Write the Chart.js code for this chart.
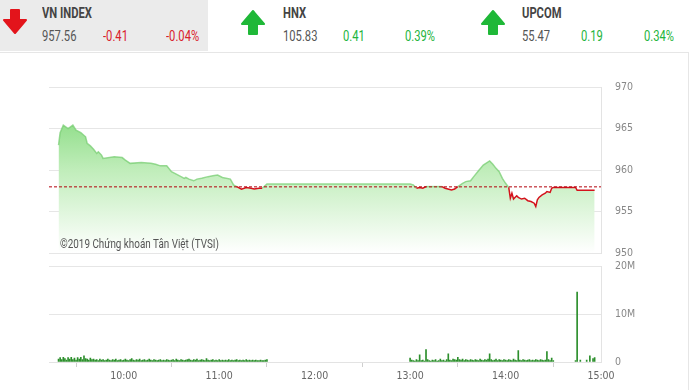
<!DOCTYPE html>
<html>
<head>
<meta charset="utf-8">
<script src="https://cdn.jsdelivr.net/npm/chart.js@4.4.0/dist/chart.umd.min.js"></script>
<style>
  body { margin: 0; width: 690px; height: 390px; background: #fff; overflow: hidden;
         font-family: Roboto, 'DejaVu Sans Condensed', sans-serif; }
  .hdr { position: absolute; top: 0; height: 51px; }
  .grey { left: 0; width: 208px; background: #ebebeb; }
  .txt { position: absolute; font-size: 14px; color: #555; white-space: nowrap;
         transform: scaleX(0.8); transform-origin: 0 0; }
  .name { font-weight: bold; color: #444; top: 5px; }
  .val { top: 28px; }
  .red { color: #d9202a; }
  .green { color: #22b43c; }
  .arrow { position: absolute; }
  #frame { position: absolute; left: 0; top: 52px; width: 688px; height: 340px;
           border-top: 1px solid #e6e6e6; border-right: 1px solid #e6e6e6; }
  #mainWrap { position: absolute; left: 0; top: 60px; width: 690px; height: 200px; }
  #volWrap { position: absolute; left: 0; top: 260px; width: 690px; height: 130px; }
  canvas { display: block; }
  #copy { position: absolute; left: 60px; top: 236px; font-size: 13px; color: #555; white-space: nowrap;
          transform: scaleX(0.76); transform-origin: 0 0; }
</style>
</head>
<body>
<div class="hdr grey"></div>
<div id="frame"></div>

<svg class="arrow" style="left:2px;top:9px" width="26" height="26" viewBox="0 0 26 26">
  <polygon points="9,1 17,1 17,11 24,11 13,24 2,11 9,11" fill="#e3141b" stroke="#e3141b" stroke-width="2" stroke-linejoin="round"/>
</svg>
<svg class="arrow" style="left:240px;top:9px" width="26" height="26" viewBox="0 0 26 26">
  <polygon points="13,2 24,15 17,15 17,25 9,25 9,15 2,15" fill="#1fb838" stroke="#1fb838" stroke-width="2" stroke-linejoin="round"/>
</svg>
<svg class="arrow" style="left:480px;top:9px" width="26" height="26" viewBox="0 0 26 26">
  <polygon points="13,2 24,15 17,15 17,25 9,25 9,15 2,15" fill="#1fb838" stroke="#1fb838" stroke-width="2" stroke-linejoin="round"/>
</svg>

<div class="txt name" style="left:42px">VN INDEX</div>
<div class="txt val" style="left:42px">957.56</div>
<div class="txt val red" style="left:103px">-0.41</div>
<div class="txt val red" style="left:166px">-0.04%</div>

<div class="txt name" style="left:283px">HNX</div>
<div class="txt val" style="left:283px">105.83</div>
<div class="txt val green" style="left:343px">0.41</div>
<div class="txt val green" style="left:405px">0.39%</div>

<div class="txt name" style="left:522px">UPCOM</div>
<div class="txt val" style="left:522px">55.47</div>
<div class="txt val green" style="left:581px">0.19</div>
<div class="txt val green" style="left:644px">0.34%</div>

<div id="mainWrap"><canvas id="priceChart" width="690" height="200"></canvas></div>
<div id="volWrap"><canvas id="volChart" width="690" height="130"></canvas></div>
<div id="copy">©2019 Chứng khoán Tân Việt (TVSI)</div>

<script>
// Reference (previous close) level
const REF = 957.97;

// Axis range, minutes since midnight (9:13 -> 15:00)
const X_MIN = 553;
const X_MAX = 900;

// Price line: time and index value
const priceTimes = [
  '09:19', '09:20', '09:22', '09:25', '09:28', '09:30', '09:33', '09:36', '09:37', '09:39',
  '09:41', '09:43', '09:44', '09:46', '09:47', '09:54', '09:59', '10:01', '10:04', '10:11',
  '10:17', '10:20', '10:23', '10:27', '10:30', '10:33', '10:36', '10:38', '10:39', '10:41',
  '10:44', '10:46', '10:49', '10:53', '10:56', '10:59', '11:02', '11:07', '11:09', '11:11',
  '11:14', '11:17', '11:20', '11:22', '11:25', '11:27', '11:30', '13:00', '13:02', '13:04',
  '13:06', '13:08', '13:10', '13:20', '13:22', '13:26', '13:28', '13:30', '13:33', '13:35',
  '13:38', '13:40', '13:43', '13:46', '13:50', '13:52', '13:54', '13:56', '13:58', '14:00',
  '14:02', '14:03', '14:04', '14:05', '14:07', '14:08', '14:10', '14:12', '14:14', '14:16',
  '14:18', '14:19', '14:20', '14:21', '14:23', '14:25', '14:26', '14:28', '14:29', '14:30',
  '14:44', '14:45', '14:56'
];
const priceValues = [
  963.0, 964.5, 965.4, 965.0, 965.4, 964.8, 964.5, 964.0, 963.2, 962.9,
  962.5, 962.0, 962.2, 961.8, 961.4, 961.6, 961.5, 961.2, 960.8, 960.9,
  960.8, 960.7, 960.5, 960.5, 959.8, 959.5, 959.2, 959.0, 959.1, 958.9,
  958.7, 958.9, 959.0, 959.2, 959.3, 959.4, 959.1, 958.9, 958.2, 958.0,
  957.7, 957.9, 957.8, 957.7, 957.8, 957.8, 958.3, 958.3, 958.2, 957.8,
  957.9, 957.8, 958.0, 958.0, 957.8, 957.6, 957.7, 958.0, 958.4, 958.6,
  958.7, 959.2, 959.9, 960.6, 961.1, 960.7, 960.2, 959.8, 959.0, 958.4,
  957.9, 956.6, 957.2, 956.5, 956.9, 956.7, 956.5, 956.6, 956.3, 956.2,
  956.0, 955.6, 956.4, 956.7, 957.0, 957.2, 957.4, 957.3, 957.8, 957.9,
  957.9, 957.56, 957.56
];

// Volume (millions of shares), one bar per minute from the session start
const morningStart = '09:19';
const morningVol = [
  0.6, 0.9, 0.5, 1.0, 0.7, 0.4, 0.9, 0.6, 1.0, 0.5, 0.8, 0.4, 0.9, 0.6, 1.0, 0.5, 1.3, 0.7, 0.6, 0.4, 0.8, 0.5,
  0.6, 0.4, 0.5, 0.3, 0.6, 0.4, 0.5, 0.3, 0.4, 0.6, 0.4, 0.3, 0.5, 0.4, 0.6, 0.3, 0.4, 0.5, 0.3, 0.4,
  0.6, 0.4, 0.3, 0.5, 0.7, 0.4, 0.3, 0.5, 0.4, 0.6, 0.3, 0.4, 0.5, 0.3, 0.4, 0.6, 0.4, 0.3, 0.5, 0.4,
  0.3, 0.4, 0.5, 0.3, 0.4, 0.3, 0.5, 0.4, 0.3, 0.4, 0.5, 0.3, 0.6, 0.4, 0.3, 0.5, 0.4, 0.3, 0.4, 0.5,
  0.6, 0.4, 0.3, 0.5, 0.4, 0.6, 0.3, 0.4, 0.5, 0.4, 0.3, 0.7, 0.4, 0.3, 0.4, 0.5, 0.3, 0.4, 0.3, 0.5,
  0.3, 0.4, 0.3, 0.4, 0.3, 0.5, 0.3, 0.4, 0.3, 0.4, 0.5, 0.3, 0.4, 0.3, 0.4, 0.3, 0.5, 0.3, 0.4, 0.3,
  0.4, 0.3, 0.4, 0.3, 0.3, 0.4, 0.3, 0.3, 0.4, 0.5
];
const afternoonStart = '13:00';
const afternoonVol = [
  0.8, 0.4, 0.3, 0.2, 0.5, 0.3, 1.5, 0.3, 0.4, 0.2,
  2.6, 0.5, 0.3, 0.2, 0.4, 0.3, 0.5, 0.2, 0.3, 0.6,
  0.3, 0.4, 0.2, 0.5, 1.7, 0.4, 0.3, 0.6, 0.5, 0.4,
  1.0, 0.5, 0.4, 0.6, 0.3, 0.5, 0.4, 0.3, 0.5, 0.4,
  0.3, 0.5, 0.4, 0.3, 0.6, 0.4, 0.3, 0.5, 0.4, 0.6,
  1.7, 0.5, 0.3, 0.4, 0.6, 0.3, 0.5, 0.4, 0.3, 0.5,
  0.4, 0.3, 0.5, 0.4, 0.3, 0.6, 0.4, 0.3, 2.4, 0.4,
  0.3, 0.5, 0.4, 0.3, 0.4, 0.5, 0.3, 0.4, 0.3, 0.5,
  0.4, 0.3, 0.5, 0.4, 0.3, 0.4, 2.2, 0.5, 0.3, 0.8,
  0.3
];
// Closing auction and after
const closeTimes = ['14:44', '14:45', '14:47', '14:51', '14:53', '14:55', '14:56'];
const closeVol = [0.3, 14.6, 0.4, 0.4, 1.3, 0.7, 0.9];

// Axis ticks
const priceTicks = [950, 955, 960, 965, 970];
const volTicks = [0, 10, 20];
const timeTicks = ['10:00', '11:00', '12:00', '13:00', '14:00', '15:00'];

const FONT = "'DejaVu Sans Condensed', Roboto, sans-serif";
const RED = '#d4121c';
const GREEN_EDGE = 'rgba(120, 205, 115, 0.75)';

const toMin = (t) => {
  const [h, m] = t.split(':').map(Number);
  return h * 60 + m;
};
const fmtTime = (v) => {
  const h = Math.floor(v / 60);
  const m = v % 60;
  return `${h}:${String(m).padStart(2, '0')}`;
};

const pricePoints = priceTimes.map((t, i) => ({ x: toMin(t), y: priceValues[i] }));
const volPoints = [
  ...morningVol.map((v, i) => ({ x: toMin(morningStart) + i, y: v })),
  ...afternoonVol.map((v, i) => ({ x: toMin(afternoonStart) + i, y: v })),
  ...closeVol.map((v, i) => ({ x: toMin(closeTimes[i]), y: v }))
];

// Fix the right axis width so both plots line up
const fixWidth = (scale) => { scale.width = 89; };

// Right axis: labels pushed 14px off the border by an invisible tick mark
const rightGrid = { color: '#e6e6e6', drawTicks: true, tickLength: 14, tickColor: 'rgba(0,0,0,0)' };

const areaFill = (ctx) => {
  const { chart } = ctx;
  const area = chart.chartArea;
  if (!area) return 'rgba(150,225,145,0.6)';
  const g = chart.ctx.createLinearGradient(0, area.top, 0, area.bottom);
  g.addColorStop(0, 'rgba(112, 212, 105, 1)');
  g.addColorStop(0.5, 'rgba(192, 237, 186, 1)');
  g.addColorStop(1, 'rgba(255, 255, 255, 1)');
  return g;
};

new Chart(document.getElementById('priceChart'), {
  type: 'line',
  data: {
    datasets: [
      {
        // reference line
        data: [{ x: X_MIN, y: REF }, { x: X_MAX, y: REF }],
        borderColor: '#b3000c',
        borderWidth: 1,
        borderDash: [3, 2],
        pointRadius: 0,
        fill: false,
        order: 0
      },
      {
        // price line, red below reference
        data: pricePoints,
        borderWidth: 1.5,
        pointRadius: 0,
        tension: 0,
        fill: false,
        segment: {
          borderColor: (c) => ((c.p0.parsed.y + c.p1.parsed.y) / 2 < REF ? RED : GREEN_EDGE)
        },
        order: 1
      },
      {
        // area under the price
        data: pricePoints,
        borderWidth: 0,
        borderColor: 'rgba(0,0,0,0)',
        pointRadius: 0,
        tension: 0,
        fill: 'start',
        backgroundColor: areaFill,
        order: 2
      }
    ]
  },
  options: {
    responsive: false,
    animation: false,
    events: [],
    layout: { padding: { left: 49, top: 27, bottom: 7, right: 0 } },
    plugins: { legend: { display: false }, tooltip: { enabled: false } },
    scales: {
      x: { type: 'linear', min: X_MIN, max: X_MAX, display: false },
      y: {
        position: 'right',
        min: 950,
        max: 970,
        afterFit: fixWidth,
        afterBuildTicks: (s) => { s.ticks = priceTicks.map(v => ({ value: v })); },
        border: { display: true, color: '#e3e3e3' },
        grid: rightGrid,
        ticks: { padding: 0, color: '#888', font: { family: FONT, size: 10.5 } }
      }
    }
  }
});

new Chart(document.getElementById('volChart'), {
  type: 'bar',
  data: {
    datasets: [{
      data: volPoints,
      backgroundColor: '#2c8f2c',
      barThickness: 1,
      borderWidth: 0
    }]
  },
  options: {
    responsive: false,
    animation: false,
    events: [],
    layout: { padding: { left: 49, top: 6, bottom: 0, right: 0 } },
    plugins: { legend: { display: false }, tooltip: { enabled: false } },
    scales: {
      x: {
        type: 'linear',
        min: X_MIN,
        max: X_MAX,
        offset: false,
        afterFit: (s) => { s.height = 28; },
        afterBuildTicks: (s) => { s.ticks = timeTicks.map(t => ({ value: toMin(t) })); },
        border: { display: true, color: '#e3e3e3' },
        grid: { drawOnChartArea: false, drawTicks: true, tickLength: 5, color: '#cfcfcf' },
        ticks: {
          padding: 3,
          maxRotation: 0,
          color: '#666',
          font: { family: FONT, size: 10.5 },
          callback: (v) => fmtTime(v)
        }
      },
      y: {
        position: 'right',
        min: 0,
        max: 20,
        afterFit: fixWidth,
        afterBuildTicks: (s) => { s.ticks = volTicks.map(v => ({ value: v })); },
        border: { display: true, color: '#e3e3e3' },
        grid: rightGrid,
        ticks: {
          padding: 0,
          color: '#888',
          font: { family: FONT, size: 10.5 },
          callback: (v) => (v === 0 ? '0' : v + 'M')
        }
      }
    }
  }
});
</script>
</body>
</html>
